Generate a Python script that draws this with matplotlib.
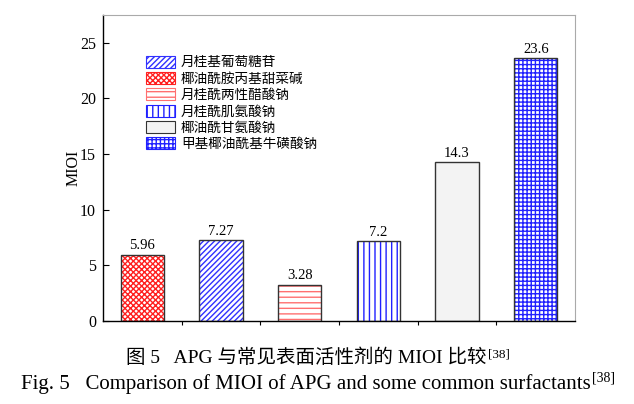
import matplotlib
matplotlib.use("Agg")
import matplotlib.pyplot as plt
from matplotlib.patches import Patch

plt.rcParams['font.family'] = ['Liberation Serif', 'Noto Sans CJK SC']
plt.rcParams['hatch.linewidth'] = 1.0

# bar order on the x axis
names = ['椰油酰胺丙基甜菜碱', '月桂基葡萄糖苷', '月桂酰两性醋酸钠',
         '月桂酰肌氨酸钠', '椰油酰甘氨酸钠', '甲基椰油酰基牛磺酸钠']
values = [5.96, 7.27, 3.28, 7.2, 14.3, 23.6]
labels = ['5.96', '7.27', '3.28', '7.2', '14.3', '23.6']
legend_order = ['月桂基葡萄糖苷', '椰油酰胺丙基甜菜碱', '月桂酰两性醋酸钠',
                '月桂酰肌氨酸钠', '椰油酰甘氨酸钠', '甲基椰油酰基牛磺酸钠']

# style per substance: (face, hatch colour, hatch)
styles = {
    '椰油酰胺丙基甜菜碱': ('white', '#ff2020', 'xxxxxx'),
    '月桂基葡萄糖苷': ('white', '#3030ff', '//////'),
    '月桂酰两性醋酸钠': ('white', '#ff7070', '---'),
    '月桂酰肌氨酸钠': ('white', '#2020ff', '|||'),
    '椰油酰甘氨酸钠': ('#f3f3f3', '#f3f3f3', ''),
    '甲基椰油酰基牛磺酸钠': ('white', '#2020ff', '++++'),
}
EDGE = '#333333'

fig = plt.figure(figsize=(6.34, 4.04), dpi=100)
ax = fig.add_axes([0.1625, 0.2054, 0.7445, 0.7576])

for i, name in enumerate(names):
    face, hc, hatch = styles[name]
    # hatch drawn with edgecolor, outline drawn on top
    ax.bar(i, values[i], width=0.55, color=face, edgecolor=hc, hatch=hatch, linewidth=0)
    ax.bar(i, values[i], width=0.55, fill=False, edgecolor=EDGE, linewidth=1.0)
    ax.text(i, values[i] + 0.2, labels[i], ha='center', va='bottom', fontsize=10.5)

ax.set_xlim(-0.5, 5.5)
ax.set_ylim(0, 27.5)
ax.set_xticks([0.5, 1.5, 2.5, 3.5, 4.5])
ax.set_xticklabels([])
ax.tick_params(axis='x', direction='out', length=3, width=0.8)
ax.set_yticks([0, 5, 10, 15, 20, 25])
ax.tick_params(axis='y', direction='in', length=4, width=0.8, labelsize=11.5, pad=5)
ax.set_ylabel('MIOI', fontsize=11.5, labelpad=-1)

for s in ['top', 'right']:
    ax.spines[s].set_color('#aaaaaa')
for s in ['left', 'bottom']:
    ax.spines[s].set_color('black')
    ax.spines[s].set_linewidth(1.0)

handles = []
for name in legend_order:
    face, hc, hatch = styles[name]
    handles.append(Patch(facecolor=face, edgecolor=hc if hatch else EDGE, hatch=hatch))
leg = ax.legend(handles, legend_order, loc='upper left', bbox_to_anchor=(0.09, 0.868),
                frameon=False, borderaxespad=0, borderpad=0, handlelength=2.2,
                handleheight=1.0, labelspacing=0.17, handletextpad=0.4,
                prop={'family': ['Noto Sans CJK SC'], 'size': 9.8})
for p in leg.get_patches():
    p.set_linewidth(0.8)

# caption, superscript reference drawn right after each line
fig.canvas.draw()
r = fig.canvas.get_renderer()
cap_cn = fig.text(0.5, 0.115, '图 5   APG 与常见表面活性剂的 MIOI 比较', ha='center', va='center',
                  fontsize=14)
cap_en = fig.text(0.5, 0.05, 'Fig. 5   Comparison of MIOI of APG and some common surfactants',
                  ha='center', va='center', fontsize=15)
for t, size, lift in [(cap_cn, 9.5, 0), (cap_en, 10, 2)]:
    probe = fig.text(0, 0, '[38]', fontsize=size)
    sup_w = probe.get_window_extent(renderer=r).width
    probe.remove()
    x0, y0 = t.get_position()
    t.set_position((x0 - sup_w / 2 / fig.bbox.width, y0))
    bb = t.get_window_extent(renderer=r)
    fig.text(bb.x1 / fig.bbox.width + 0.002, (bb.y1 + lift) / fig.bbox.height, '[38]',
             fontsize=size, ha='left', va='top')

fig.savefig('out.png', dpi=100)
